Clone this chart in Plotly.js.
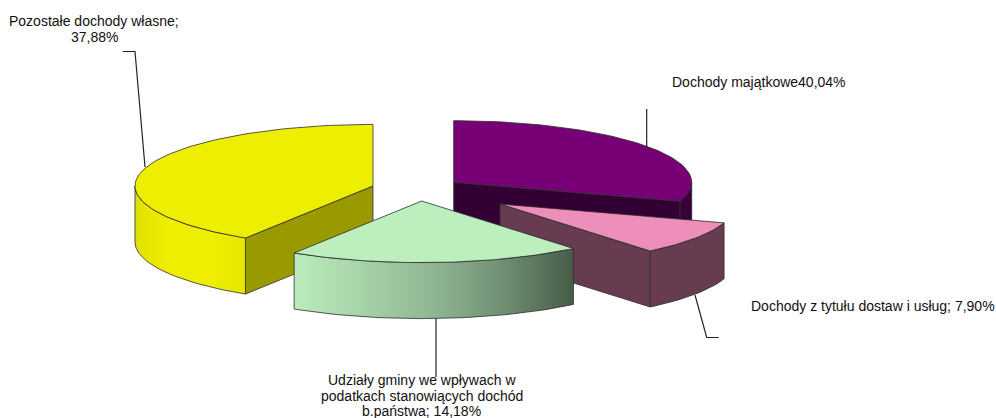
<!DOCTYPE html>
<html><head><meta charset="utf-8">
<script src="https://cdn.plot.ly/plotly-3.0.1.min.js"></script>
<style>html,body{margin:0;padding:0;background:#fff}#c{width:996px;height:418px}</style>
</head><body><div id="c"></div>
<script>
// Slices, clockwise from 12 o'clock
const categories = ['Dochody majątkowe', 'Dochody z tytułu dostaw i usług', 'Udziały gminy we wpływach w podatkach stanowiących dochód b.państwa', 'Pozostałe dochody własne'];
// Percentages as printed in the labels
const printedPercent = [40.04, 7.90, 14.18, 37.88];
// Share of the circle each slice occupies in the drawing
const drawnShare = [30.0, 9.0, 20.0, 41.0];
const topColors = ['#770077', '#EE8EBB', '#BCEEBE', '#EEEE00'];
const cutWallColors = ['#330033', '#673C50', '#5a6e5a', '#999900'];
const rimGradients = [
  [[0,'#370037'],[1,'#370037']],
  [[0,'#673C50'],[1,'#673C50']],
  [[0,'#BAECBC'],[0.25,'#A6D2A8'],[0.5,'#8FB693'],[0.75,'#6F8F73'],[1,'#475C48']],
  [[0,'#E0E000'],[0.3,'#EEEE00'],[0.7,'#EEEE00'],[1,'#E6E600']]
];
// Pie geometry (screen pixels)
const RX = 238, RY = 61.6, DEPTH = 56;
const apexX = [453.7, 500, 421.7, 373];
const apexY = [182.3, 204, 201, 186];
const radiusScale = [1, 0.99, 1, 1];
const drawOrder = [0, 3, 1, 2];
const EDGE = {color:'rgba(45,45,45,0.8)', width:1};

const pt = (i, deg, drop) => {
  const a = deg*Math.PI/180;
  return [apexX[i]+radiusScale[i]*RX*Math.sin(a), apexY[i]-radiusScale[i]*RY*Math.cos(a)+(drop||0)];
};
const arc = (i, a0, a1, drop) => {
  const out = [], n = Math.max(2, Math.ceil(Math.abs(a1-a0)/1.5));
  for (let k=0;k<=n;k++) out.push(pt(i, a0+(a1-a0)*k/n, drop));
  return out;
};
const poly = (points, extra) => Object.assign({
  type:'scatter', mode:'lines', fill:'toself', hoverinfo:'skip', showlegend:false,
  x:points.map(p=>p[0]), y:points.map(p=>p[1]), line:EDGE
}, extra);

const total = drawnShare.reduce((s,v)=>s+v,0);
const starts = []; let acc = 0;
drawnShare.forEach(v=>{starts.push(acc/total*360); acc+=v;});

const traces = [];
drawOrder.forEach(i=>{
  const a0 = starts[i], a1 = a0+drawnShare[i]/total*360;
  const apex = [apexX[i],apexY[i]], apexLow = [apexX[i],apexY[i]+DEPTH];
  const cut = a => poly([apex, pt(i,a), pt(i,a,DEPTH), apexLow, apex], {fillcolor:cutWallColors[i]});
  if (Math.sin(a0*Math.PI/180) < -1e-6) traces.push(cut(a0));
  if (Math.sin(a1*Math.PI/180) >  1e-6) traces.push(cut(a1));
  const r0 = Math.max(a0,90), r1 = Math.min(a1,270);
  if (r1>r0) {
    const upper = arc(i,r0,r1,0), lower = arc(i,r1,r0,DEPTH);
    const ring = upper.concat(lower,[upper[0]]);
    traces.push(poly(ring, {fillgradient:{type:'horizontal', colorscale:rimGradients[i]}}));
  }
  traces.push(poly([apex].concat(arc(i,a0,a1,0),[apex]), {fillcolor:topColors[i]}));
});

// Labels
const pct = v => v.toFixed(2).replace('.', ',') + '%';
const labelLines = [
  {x:94,  y:21,  t:'Pozostałe dochody własne;'},
  {x:94,  y:37,  t:pct(printedPercent[3])},
  {x:758.5, y:82, t:categories[0] + pct(printedPercent[0])},
  {x:873, y:306, t:categories[1] + '; ' + pct(printedPercent[1])},
  {x:421.5, y:380, t:'Udziały gminy we wpływach w'},
  {x:421.5, y:395.5, t:'podatkach stanowiących dochód'},
  {x:421.5, y:410.5, t:'b.państwa; ' + pct(printedPercent[2])}
];
const annotations = labelLines.map(l=>({
  x:l.x, y:l.y, xref:'x', yref:'y', text:l.t, showarrow:false, xanchor:'center', yanchor:'middle',
  font:{family:'"Liberation Sans", Arial, sans-serif', size:14, color:'#111'}
}));

// Leader lines
const leaders = ['M122.7 51.5 L135 51.5 L145 167', 'M646.7 109 L646.7 147', 'M695 295 L706.7 337.5 L718.7 337.5', 'M436 318 L436 377'];
const shapes = leaders.map((path,k)=>({type:'path', path, xref:'x', yref:'y', layer:'below', line:{color:'#222', width:1.2}}));

Plotly.newPlot('c', traces, {
  width:996, height:418, margin:{l:0,r:0,t:0,b:0}, paper_bgcolor:'#fff', plot_bgcolor:'#fff',
  xaxis:{range:[0,996], visible:false, fixedrange:true},
  yaxis:{range:[418,0], visible:false, fixedrange:true},
  annotations, shapes, showlegend:false, hovermode:false
}, {displayModeBar:false, staticPlot:true});
</script></body></html>
